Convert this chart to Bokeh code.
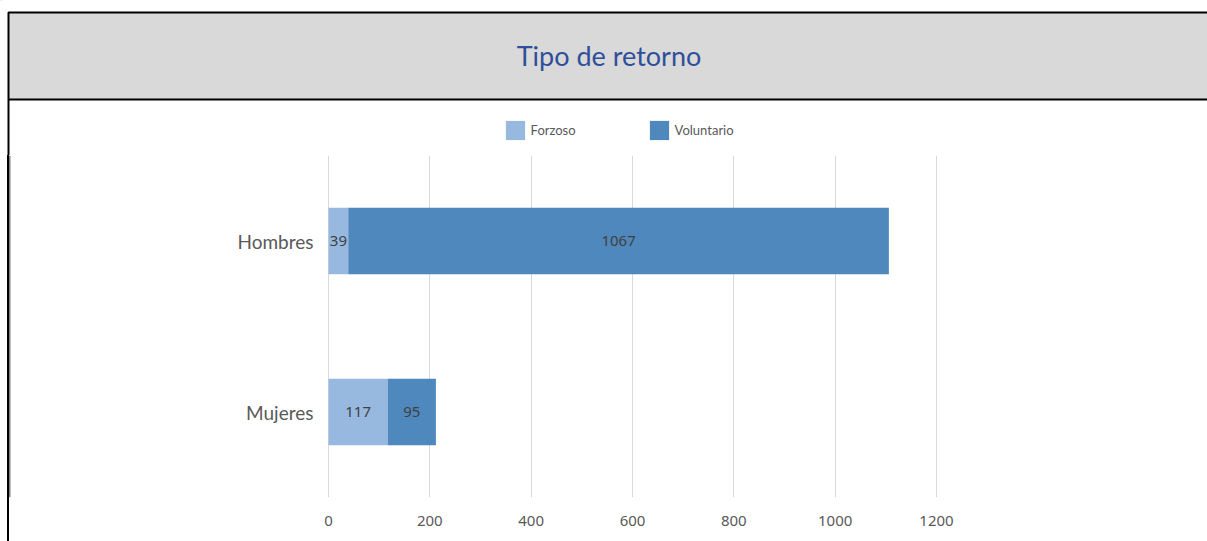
from bokeh.plotting import figure
from bokeh.layouts import column, row
from bokeh.models import (ColumnDataSource, Range1d, FactorRange, LabelSet, Legend,
                          FixedTicker, Spacer, Span)
from bokeh.embed import file_html
from bokeh.resources import INLINE
from bokeh.core.properties import value

# ---- data ----
categories = ["Mujeres", "Hombres"]
forzoso = [117, 39]
voluntario = [95, 1067]
series = ["Forzoso", "Voluntario"]
colors = ["#97b9e0", "#4f88bc"]
x_ticks = [0, 200, 400, 600, 800, 1000, 1200]
title_text = "Tipo de retorno"

# ---------------- header band (with legend) ----------------
HW, HH = 1207, 155
hdr = figure(width=HW, height=HH, x_range=Range1d(0, HW), y_range=Range1d(HH, 0),
             x_axis_type=None, y_axis_type=None, output_backend="svg",
             toolbar_location=None, min_border=0)
hdr.title.visible = False
hdr.outline_line_color = None
hdr.xgrid.visible = False
hdr.ygrid.visible = False
hdr.background_fill_color = "white"
hdr.border_fill_color = "white"
hdr.quad(left=[8], right=[HW + 60], top=[12], bottom=[99], fill_color="#d9d9d9",
         line_color="black", line_width=2)
hdr.segment(x0=[8], y0=[99], x1=[8], y1=[HH], line_color="black", line_width=2)
hdr.text(x=[608.5], y=[55], text=[title_text], text_align="center", text_baseline="middle",
         text_font=value("Lato"), text_font_size="27px", text_color="#2e4f9a")

swatches = [hdr.hbar(y=[-100], left=[0], right=[1], height=1, color=c, line_color=None)
            for c in colors]
legend = Legend(items=[(s, [r]) for s, r in zip(series, swatches)], orientation="horizontal",
                location=(502.6, 13.5), padding=0, margin=0, spacing=32,
                glyph_width=24, glyph_height=24, label_standoff=4, label_width=84,
                label_text_font="Lato", label_text_font_size="13px",
                label_text_color="#595959", border_line_alpha=0,
                background_fill_alpha=0)
hdr.add_layout(legend, "center")

# ---------------- left border strip ----------------
CH = 541 - HH
strip = Spacer(width=2, height=CH, styles={"background-color": "black", "z-index": "10"})

# ---------------- chart ----------------
# chart canvas starts at x=9; value 0 sits at x=328 and 1200 at x=936
W = 1198
px_per_unit = 608 / 1200
x_start = -(328 - 9) / px_per_unit
x_end = 1200 + 1 / px_per_unit
p = figure(width=W, height=CH,
           y_range=FactorRange(*categories, range_padding=0),
           x_range=Range1d(x_start, x_end),
           output_backend="svg", toolbar_location=None,
           min_border_left=0, min_border_right=W - 928,
           min_border_top=0, min_border_bottom=44)
p.title.visible = False
p.outline_line_color = None
p.background_fill_color = "white"
p.border_fill_color = "white"

source = ColumnDataSource(dict(cat=categories, Forzoso=forzoso, Voluntario=voluntario))
rs = p.hbar_stack(series, y="cat", height=0.39, color=colors, source=source, line_color=None)

lab_x, lab_y, lab_t = [], [], []
for c, f, v in zip(categories, forzoso, voluntario):
    lab_x += [f / 2, f + v / 2]
    lab_y += [c, c]
    lab_t += [str(f), str(v)]
lab_src = ColumnDataSource(dict(x=lab_x, y=lab_y, t=lab_t))
p.add_layout(LabelSet(x="x", y="y", text="t", source=lab_src, text_align="center",
                      text_baseline="middle", text_font_size="15px", text_color="#404040",
                      text_font=value("Noto Sans")))

# category labels at the left of the bars
cat_src = ColumnDataSource(dict(x=[0] * len(categories), y=categories, t=categories))
p.add_layout(LabelSet(x="x", y="y", text="t", source=cat_src, x_offset=-15,
                      text_align="right", text_baseline="middle", text_font_size="19px",
                      text_color="#595959", text_font=value("Lato")))
p.yaxis.visible = False

# left border inside the frame (continues the strip)
p.add_layout(Span(location=x_start, dimension="height",
                  line_color="black", line_width=1.5))

p.xaxis.ticker = FixedTicker(ticks=x_ticks)
p.xaxis.axis_line_color = None
p.xaxis.major_tick_line_color = None
p.xaxis.minor_tick_line_color = None
p.xaxis.major_label_text_color = "#595959"
p.xaxis.major_label_text_font = "Noto Sans"
p.xaxis.major_label_text_font_size = "15px"
p.xaxis.major_label_standoff = 12

p.xgrid.grid_line_color = "#d9d9d9"
p.xgrid.grid_line_width = 1
p.ygrid.grid_line_color = None

layout = column(hdr, row(Spacer(width=7, height=CH), strip, p, spacing=0), spacing=0)
open("out.html", "w").write(file_html(layout, INLINE))
